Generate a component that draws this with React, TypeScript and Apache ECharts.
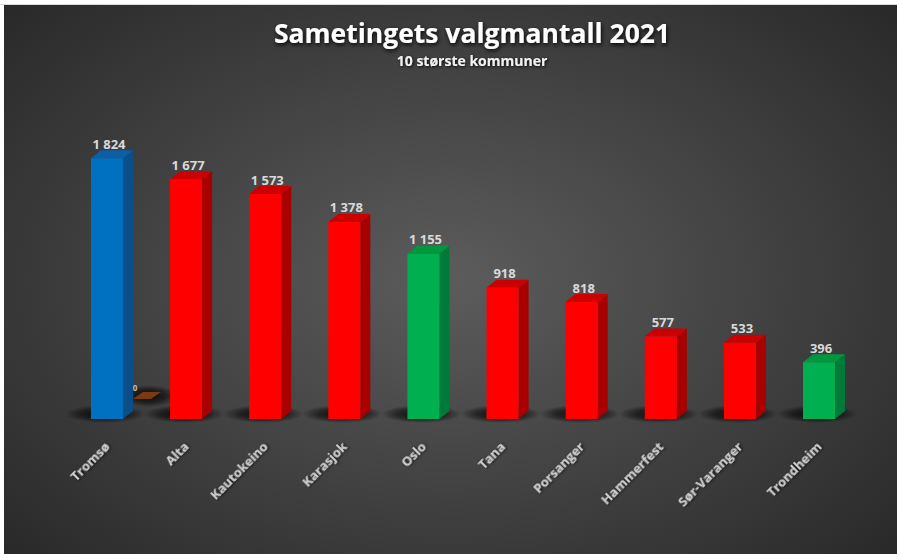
import React, { useEffect, useRef } from "react";
import * as echarts from "echarts";

const categories = [
  "Tromsø",
  "Alta",
  "Kautokeino",
  "Karasjok",
  "Oslo",
  "Tana",
  "Porsanger",
  "Hammerfest",
  "Sør-Varanger",
  "Trondheim",
];
const values = [1824, 1677, 1573, 1378, 1155, 918, 818, 577, 533, 396];
const barColorKeys = ["blue", "red", "red", "red", "green", "red", "red", "red", "red", "green"];
const backRowValues = [0]; // second (back-row) series, only Tromsø
const titleText = "Sametingets valgmantall 2021";
const subtitleText = "10 største kommuner";

const palette: Record<string, { front: string; side: string; top: string }> = {
  blue: { front: "#0070C0", side: "#0B4F8A", top: "#0C5FA6" },
  red: { front: "#FF0000", side: "#A80000", top: "#CC0000" },
  green: { front: "#00B050", side: "#007A38", top: "#00973F" },
};

const fmt = (v: number) => String(v).replace(/\B(?=(\d{3})+(?!\d))/g, " ");

const FONT = '"Open Sans", "Noto Sans", sans-serif';

export default function App() {
  const ref = useRef<HTMLDivElement>(null);
  useEffect(() => {
    if (!ref.current) return;
    const chart = echarts.init(ref.current, undefined, { renderer: "svg" });
    const shadowFill = () =>
      new echarts.graphic.RadialGradient(0.5, 0.5, 0.5, [
        { offset: 0, color: "rgba(0,0,0,0.85)" },
        { offset: 0.6, color: "rgba(0,0,0,0.5)" },
        { offset: 1, color: "rgba(0,0,0,0)" },
      ]);
    const option: any = {
      animation: false,
      title: {
        text: titleText,
        subtext: subtitleText,
        left: 463,
        textAlign: "center",
        top: 9,
        itemGap: 7,
        textStyle: {
          color: "#ffffff",
          fontSize: 26.5,
          fontWeight: "bold",
          fontFamily: FONT,
          textShadowColor: "rgba(0,0,0,0.9)",
          textShadowBlur: 4,
          textShadowOffsetX: 1,
          textShadowOffsetY: 2,
        },
        subtextStyle: {
          color: "#f2f2f2",
          fontSize: 14,
          fontWeight: "bold",
          fontFamily: FONT,
          textShadowColor: "rgba(0,0,0,0.9)",
          textShadowBlur: 3,
          textShadowOffsetX: 1,
          textShadowOffsetY: 1,
        },
      },
      grid: { left: 63.4, right: 38.4, top: 128, bottom: 135 },
      xAxis: {
        type: "category",
        data: categories,
        axisLine: { show: false },
        axisTick: { show: false },
        axisLabel: {
          rotate: 45,
          margin: 25,
          interval: 0,
          color: "#d0d0d0",
          fontSize: 13,
          fontWeight: "bold",
          fontFamily: FONT,
          textShadowColor: "rgba(0,0,0,0.8)",
          textShadowBlur: 3,
          textShadowOffsetX: 1,
          textShadowOffsetY: 1,
        },
      },
      yAxis: { type: "value", min: 0, max: 2000, show: false, splitLine: { show: false } },
      series: [
        {
          name: "Serie 2",
          type: "custom",
          clip: false,
          data: backRowValues.map((v, i) => [i, v]),
          renderItem: (params: any, api: any) => {
            const idx = api.value(0);
            const val = api.value(1);
            const base = api.coord([idx, 0]);
            const c = base[0];
            const yB = base[1] - 20;
            const x1 = c + 26;
            const w = 18;
            const dx = 10;
            const dy = -7;
            return {
              type: "group",
              children: [
                {
                  type: "ellipse",
                  shape: { cx: c + 42, cy: yB - 3, rx: 28, ry: 11 },
                  style: { fill: shadowFill() },
                },
                {
                  type: "polygon",
                  shape: {
                    points: [
                      [x1, yB],
                      [x1 + dx, yB + dy],
                      [x1 + w + dx, yB + dy],
                      [x1 + w, yB],
                    ],
                  },
                  style: { fill: "#7B3A12" },
                },
                {
                  type: "text",
                  x: x1 + 2,
                  y: yB + dy - 1,
                  style: {
                    text: fmt(val),
                    fill: "#bfbfbf",
                    font: `bold 8px ${FONT}`,
                    align: "center",
                    verticalAlign: "bottom",
                  },
                },
              ],
            };
          },
        },
        {
          name: "Valgmantall",
          type: "custom",
          clip: false,
          data: values.map((v, i) => [i, v]),
          renderItem: (params: any, api: any) => {
            const idx = api.value(0);
            const val = api.value(1);
            const top = api.coord([idx, val]);
            const base = api.coord([idx, 0]);
            const band = api.size([1, 0])[0];
            const w = band * 0.405;
            const dx = 10;
            const dy = -8;
            const x1 = top[0] - w / 2;
            const x2 = top[0] + w / 2;
            const yT = top[1];
            const yB = base[1];
            const c = palette[barColorKeys[idx]];
            return {
              type: "group",
              children: [
                {
                  type: "ellipse",
                  shape: { cx: top[0] - 2, cy: yB - 5, rx: w * 1.25, ry: 9 },
                  style: { fill: shadowFill() },
                },
                {
                  type: "polygon",
                  shape: {
                    points: [
                      [x2, yT],
                      [x2 + dx, yT + dy],
                      [x2 + dx, yB + dy],
                      [x2, yB],
                    ],
                  },
                  style: { fill: c.side },
                },
                {
                  type: "polygon",
                  shape: {
                    points: [
                      [x1, yT],
                      [x1 + dx, yT + dy],
                      [x2 + dx, yT + dy],
                      [x2, yT],
                    ],
                  },
                  style: { fill: c.top },
                },
                {
                  type: "rect",
                  shape: { x: x1, y: yT, width: w, height: yB - yT },
                  style: { fill: c.front },
                },
                {
                  type: "text",
                  x: top[0] + 2,
                  y: yT + dy,
                  style: {
                    text: fmt(val),
                    fill: "#d9d9d9",
                    font: `bold 13px ${FONT}`,
                    align: "center",
                    verticalAlign: "bottom",
                    shadowColor: "rgba(0,0,0,0.8)",
                    shadowBlur: 3,
                    shadowOffsetX: 1,
                    shadowOffsetY: 1,
                  },
                },
              ],
            };
          },
        },
      ],
    };
    chart.setOption(option);
    return () => chart.dispose();
  }, []);

  return (
    <div
      style={{
        position: "absolute",
        left: 0,
        top: 0,
        width: 897,
        height: 554,
        background: "#ffffff",
        overflow: "hidden",
      }}
    >
      <div
        style={{
          position: "absolute",
          left: 0,
          top: 4,
          width: 897,
          height: 1,
          background: "#d9d9d9",
        }}
      />
      <div
        ref={ref}
        style={{
          position: "absolute",
          left: 4,
          top: 5,
          width: 893,
          height: 549,
          background:
            "radial-gradient(ellipse 72% 78% at 50% 50%, #5c5c5c 0%, #444444 45%, #262626 100%)",
        }}
      />
    </div>
  );
}
